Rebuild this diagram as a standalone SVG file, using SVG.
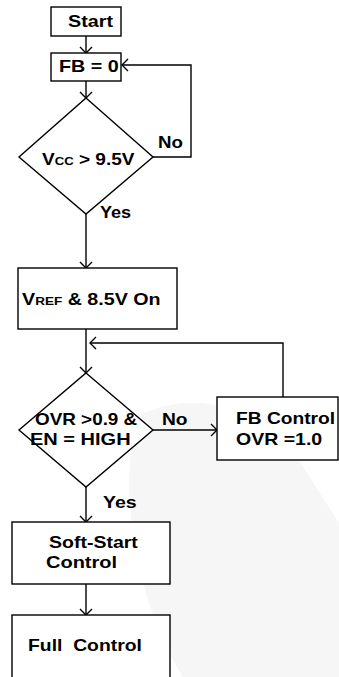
<svg xmlns="http://www.w3.org/2000/svg" width="339" height="677" viewBox="0 0 339 677">
<style>
.box{fill:#fff;stroke:#000;stroke-width:1.4}
.ln{fill:none;stroke:#000;stroke-width:1.4}
text{font-family:"Liberation Sans",Arial,sans-serif;font-weight:bold;font-size:16px;fill:#000}
.sub{font-size:11px}
</style>
<defs>
<marker id="ah" markerUnits="userSpaceOnUse" viewBox="-8 -8 10 16" markerWidth="10" markerHeight="16" refX="0" refY="0" orient="auto" overflow="visible">
<path d="M-6,-6 L0,0 L-6,6" fill="none" stroke="#000" stroke-width="1.4"/>
</marker>
</defs>
<rect width="339" height="677" fill="#fff"/>
<path d="M183,677 C135,600 115,480 140,415 C195,388 265,405 305,470 L339,523 L339,677 Z" fill="#f6f6f6"/>
<g id="connectors">
<line class="ln" x1="86" y1="36" x2="86" y2="53" marker-end="url(#ah)"/>
<line class="ln" x1="86" y1="81" x2="86" y2="98" marker-end="url(#ah)"/>
<polyline class="ln" points="153,157 191,157 191,65 122,65" marker-end="url(#ah)"/>
<line class="ln" x1="86" y1="214" x2="86" y2="268" marker-end="url(#ah)"/>
<line class="ln" x1="86" y1="329" x2="86" y2="373" marker-end="url(#ah)"/>
<polyline class="ln" points="283,397 283,343 90,343" marker-end="url(#ah)"/>
<line class="ln" x1="153" y1="430" x2="217" y2="430" marker-end="url(#ah)"/>
<line class="ln" x1="86" y1="487" x2="86" y2="522" marker-end="url(#ah)"/>
<line class="ln" x1="86" y1="584" x2="86" y2="615" marker-end="url(#ah)"/>
<text transform="translate(158,148) scale(1.17,1)">No</text>
<text transform="translate(100,218) scale(1.13,1)">Yes</text>
<text transform="translate(162,425) scale(1.2,1)">No</text>
<text transform="translate(103,508) scale(1.22,1)">Yes</text>
</g>
<g id="start">
<rect class="box" x="51" y="7" width="70" height="29"/>
<text transform="translate(68,27) scale(1.235,1)">Start</text>
</g>
<g id="fb0">
<rect class="box" x="51" y="53" width="70" height="28"/>
<text transform="translate(59,72) scale(1.235,1)">FB = 0</text>
</g>
<g id="vcc">
<polygon class="box" points="86,98 153,157 86,214 19,157"/>
<text transform="translate(42,165) scale(1.19,1)">V<tspan class="sub">CC</tspan> &gt; 9.5V</text>
</g>
<g id="vref">
<rect class="box" x="18" y="268" width="159" height="61"/>
<text transform="translate(22,305) scale(1.23,1)">V<tspan class="sub">REF</tspan> &amp; 8.5V On</text>
</g>
<g id="ovr">
<polygon class="box" points="86,373 153,430 86,487 19,430"/>
<text transform="translate(35,425) scale(1.18,1)">OVR &gt;0.9 &amp;</text>
<text transform="translate(30,445) scale(1.25,1)">EN = HIGH</text>
</g>
<g id="fbcontrol">
<rect class="box" x="217" y="397" width="121" height="63"/>
<text transform="translate(236,424) scale(1.2,1)">FB Control</text>
<text transform="translate(236,445) scale(1.22,1)">OVR =1.0</text>
</g>
<g id="softstart">
<rect class="box" x="12" y="522" width="158" height="62"/>
<text transform="translate(49,548) scale(1.22,1)">Soft-Start</text>
<text transform="translate(46,568) scale(1.25,1)">Control</text>
</g>
<g id="fullcontrol">
<rect class="box" x="12" y="615" width="158" height="70"/>
<text transform="translate(28,651) scale(1.21,1)" xml:space="preserve">Full  Control</text>
</g>
</svg>
